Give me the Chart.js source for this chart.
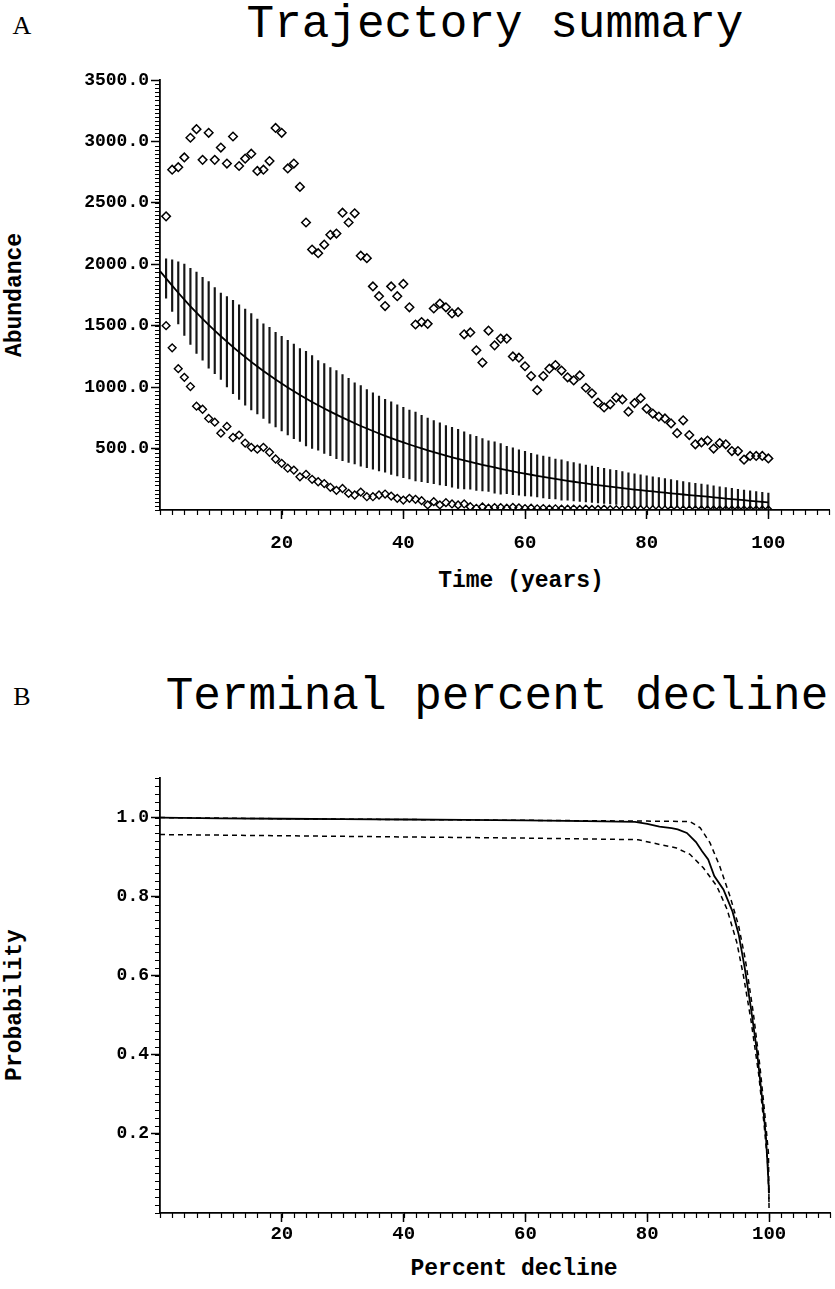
<!DOCTYPE html>
<html>
<head>
<meta charset="utf-8">
<script src="https://cdn.jsdelivr.net/npm/chart.js@4.4.1/dist/chart.umd.min.js"></script>
<style>
  body { margin: 0; background: #fff; width: 835px; height: 1289px; position: relative; overflow: hidden; }
  canvas { position: absolute; left: 0; }
  .t { position: absolute; white-space: nowrap; color: #000; transform: translate(-50%, -50%); }
  .panel { font-family: "Liberation Serif", serif; font-size: 26px; }
  .head { font-family: "Liberation Mono", monospace; font-size: 46px; }
  .axt { font-family: "Liberation Mono", monospace; font-weight: bold; font-size: 23px; }
  .rot { transform: translate(-50%, -50%) rotate(-90deg); }
</style>
</head>
<body>
<div class="t panel" style="left:22px;top:26px">A</div>
<div class="t head" style="left:495px;top:25px">Trajectory summary</div>
<div class="t axt rot" style="left:15px;top:295px">Abundance</div>
<div class="t axt" style="left:521px;top:581px">Time (years)</div>

<div class="t panel" style="left:22px;top:697px">B</div>
<div class="t head" style="left:497px;top:697px">Terminal percent decline</div>
<div class="t axt rot" style="left:15px;top:1005px">Probability</div>
<div class="t axt" style="left:514px;top:1269px">Percent decline</div>

<canvas id="topChart" width="835" height="620" style="top:0"></canvas>
<canvas id="botChart" width="835" height="669" style="top:620px"></canvas>

<script>
// panel A: trajectory summary, one value per year
const meanVals = [1945,
  1885,1826,1768,1712,1658,1606,1556,1507,1460,1414,
  1370,1327,1285,1245,1206,1168,1131,1096,1062,1029,
  997,966,936,907,879,852,826,801,776,752,
  729,706,684,663,643,623,604,585,567,550,
  533,517,501,486,471,457,443,429,416,404,
  391,379,368,357,346,335,325,315,305,296,
  287,278,269,261,253,245,237,230,223,216,
  209,202,196,190,184,178,172,166,161,156,
  151,146,141,136,131,126,121,117,113,109,
  103,98,93,89,84,80,75,71,66,62];

const sdVals = [0,
  160,210,253,290,310,331,337,353,351,351,
  368,380,385,391,392,385,385,390,385,385,
  385,385,378,385,378,365,365,358,358,351,
  342,330,328,318,311,304,297,295,290,286,
  281,280,270,263,257,252,245,243,240,232,
  222,220,213,206,209,206,193,191,185,182,
  175,172,170,169,162,164,158,156,153,150,
  148,145,143,140,138,135,131,128,125,122,
  119,117,114,111,108,106,103,100,98,95,
  93,91,89,87,85,83,81,79,77,75];

const upperVals = [
  2390,2770,2790,2870,3030,3100,2850,3070,2850,2950,
  2820,3040,2800,2860,2900,2760,2770,2840,3110,3070,
  2780,2820,2630,2340,2120,2090,2160,2240,2250,2420,
  2340,2415,2070,2050,1820,1740,1660,1820,1740,1840,
  1650,1510,1530,1515,1640,1680,1650,1600,1610,1430,
  1445,1300,1200,1460,1340,1395,1395,1250,1240,1170,
  1090,975,1090,1150,1180,1135,1080,1055,1095,995,
  950,875,835,860,915,900,800,870,910,825,
  785,760,745,705,625,730,610,535,550,565,
  500,545,535,480,480,410,440,440,440,420];

const lowerVals = [
  1500,1320,1150,1080,1005,845,820,745,715,625,
  680,590,610,545,510,495,510,470,415,380,
  340,325,270,290,250,230,215,185,160,175,
  135,122,146,108,108,122,130,113,95,81,
  95,87,76,41,68,41,60,49,41,49,
  27,14,25,15,20,20,15,22,18,12,
  15,10,12,8,10,8,6,8,5,6,
  5,4,6,3,3,2,4,2,2,1,
  2,1,1,0,1,0,0,0,0,0,
  0,0,0,0,0,0,0,0,0,0];

const yTicksA = [500, 1000, 1500, 2000, 2500, 3000, 3500];
const xTicks = [20, 40, 60, 80, 100];

// panel B: terminal percent decline
const solidX = [0,10,20,30,40,50,60,70,78,80,82,84,85,86.5,88,89,90,91,92.5,94,95,96,97,98,99,99.5,100];
const solidY = [1.0,0.998,0.997,0.996,0.995,0.994,0.993,0.991,0.989,0.984,0.977,0.973,0.970,0.961,0.938,0.915,0.894,0.852,0.818,0.762,0.705,0.62,0.52,0.41,0.27,0.19,0.05];
const upX = [0,20,40,60,80,87,88.7,90.3,91.9,93.6,95,96.1,97.4,98.5,99.3,99.9,100];
const upY = [1.0,0.997,0.995,0.993,0.991,0.990,0.974,0.936,0.877,0.80,0.726,0.641,0.507,0.37,0.25,0.15,0.0];
const loX = [0,20,40,60,78.5,82,84.8,87,89.2,91.4,93.1,94.7,95.8,97,98.3,99.2,99.8,100];
const loY = [0.957,0.954,0.951,0.948,0.944,0.932,0.923,0.907,0.873,0.827,0.768,0.684,0.599,0.49,0.35,0.22,0.12,0.02];
const yTicksB = [0.2, 0.4, 0.6, 0.8, 1.0];

const years = upperVals.map((v, i) => i + 1);

const tickFont = { family: 'Liberation Mono', weight: 'bold', size: 19 };

const minorTicks = {
  id: 'minorTicks',
  afterDraw(chart, args, opts) {
    const ctx = chart.ctx;
    const xs = chart.scales.x, ys = chart.scales.y;
    ctx.save();
    ctx.strokeStyle = '#000';
    ctx.lineWidth = 1.2;
    ctx.beginPath();
    for (let v = xs.min; v <= xs.max + 1e-9; v += opts.xStep) {
      const px = Math.round(xs.getPixelForValue(v)) + 0.5;
      ctx.moveTo(px, xs.top);
      ctx.lineTo(px, xs.top + opts.len);
    }
    for (let v = ys.min; v <= ys.max + 1e-9; v += opts.yStep) {
      const py = Math.round(ys.getPixelForValue(v)) + 0.5;
      ctx.moveTo(ys.right, py);
      ctx.lineTo(ys.right - opts.len, py);
    }
    ctx.stroke();
    ctx.restore();
  }
};

function axisX(height, pad) {
  return {
    type: 'linear', min: 0, max: 110, offset: false,
    border: { color: '#000', width: 1.8 },
    grid: { offset: false, drawOnChartArea: false, tickLength: 9, tickColor: '#000', tickWidth: 1.5 },
    afterBuildTicks: s => { s.ticks = xTicks.map(v => ({ value: v })); },
    ticks: { color: '#000', font: tickFont, padding: pad, maxRotation: 0, autoSkip: false },
    afterFit: s => { s.height = height; }
  };
}

function axisY(max, ticks, width) {
  return {
    min: 0, max: max,
    border: { color: '#000', width: 1.8 },
    grid: { drawOnChartArea: false, tickLength: 9, tickColor: '#000', tickWidth: 1.5 },
    afterBuildTicks: s => { s.ticks = ticks.map(v => ({ value: v })); },
    ticks: { color: '#000', font: { family: 'Liberation Mono', weight: 'bold', size: 18 }, padding: 2,
      callback: v => v.toFixed(1) },
    afterFit: s => { s.width = width; }
  };
}

new Chart(document.getElementById('topChart'), {
  type: 'scatter',
  plugins: [minorTicks],
  data: {
    datasets: [
      {
        type: 'bar',
        data: years.map(t => ({ x: t, y: [meanVals[t] - sdVals[t], meanVals[t] + sdVals[t]] })),
        backgroundColor: '#161616', borderWidth: 0, barThickness: 1.5, order: 4
      },
      {
        type: 'line',
        data: meanVals.map((v, t) => ({ x: t, y: v })),
        borderColor: '#000', borderWidth: 1.8, pointRadius: 0, tension: 0, order: 3
      },
      {
        data: years.map((t, i) => ({ x: t, y: upperVals[i] })),
        pointStyle: 'rectRot', pointRadius: 4.3, borderColor: '#000', borderWidth: 1.5,
        backgroundColor: 'rgba(0,0,0,0)', order: 1
      },
      {
        data: years.map((t, i) => ({ x: t, y: lowerVals[i] })),
        pointStyle: 'rectRot', pointRadius: 3.9, borderColor: '#000', borderWidth: 1.4,
        backgroundColor: 'rgba(0,0,0,0)', order: 2
      }
    ]
  },
  options: {
    responsive: false, animation: false,
    layout: { padding: { top: 80, right: 5, left: 0, bottom: 0 } },
    plugins: { legend: { display: false }, tooltip: { enabled: false },
      minorTicks: { xStep: 2, yStep: 500 / 15, len: 5 } },
    scales: {
      x: axisX(110, 13),
      y: axisY(3500, yTicksA, 160)
    }
  }
});

new Chart(document.getElementById('botChart'), {
  type: 'scatter',
  plugins: [minorTicks],
  data: {
    datasets: [
      {
        data: solidX.map((x, i) => ({ x, y: solidY[i] })),
        showLine: true, borderColor: '#000', borderWidth: 1.8, pointRadius: 0, tension: 0
      },
      {
        data: upX.map((x, i) => ({ x, y: upY[i] })),
        showLine: true, borderColor: '#000', borderWidth: 1.5, borderDash: [5, 4], pointRadius: 0, tension: 0
      },
      {
        data: loX.map((x, i) => ({ x, y: loY[i] })),
        showLine: true, borderColor: '#000', borderWidth: 1.5, borderDash: [5, 4], pointRadius: 0, tension: 0
      }
    ]
  },
  options: {
    responsive: false, animation: false,
    layout: { padding: { top: 158, right: 5, left: 0, bottom: 0 } },
    plugins: { legend: { display: false }, tooltip: { enabled: false },
      minorTicks: { xStep: 2, yStep: 0.02, len: 5 } },
    scales: {
      x: axisX(76, 1),
      y: axisY(1.1, yTicksB, 160)
    }
  }
});
</script>
</body>
</html>
